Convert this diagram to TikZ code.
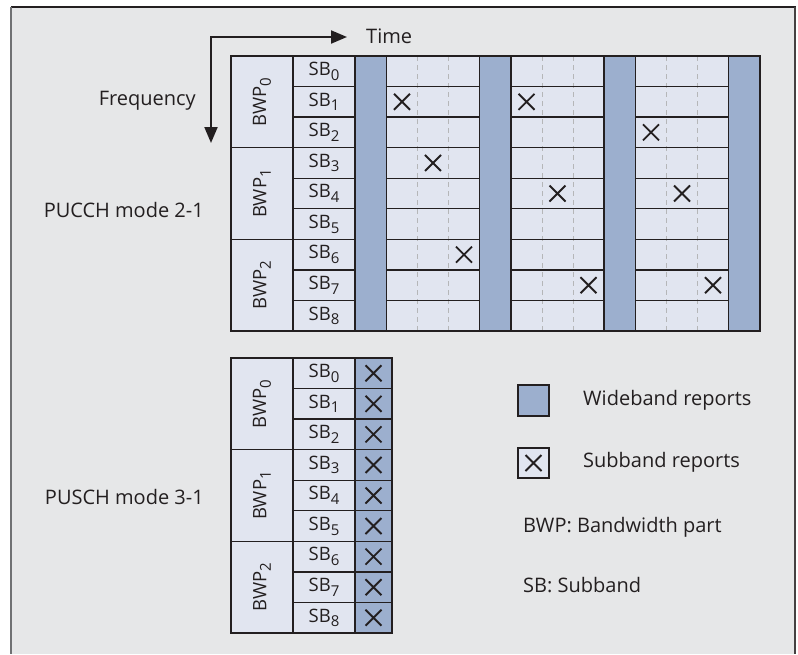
\documentclass[tikz,border=0pt]{standalone}
\usepackage{fontspec}
\setmainfont{Open Sans}
\usetikzlibrary{arrows.meta}

\definecolor{panel}{HTML}{E6E7E8}
\definecolor{cell}{HTML}{E1E5F0}
\definecolor{wide}{HTML}{9CAFCE}
\definecolor{ink}{HTML}{231F20}
\definecolor{dashgray}{HTML}{B5B6B8}
\definecolor{frameleft}{HTML}{707173}

\newcommand{\idx}[1]{\raisebox{-0.25em}{\fontsize{15}{15}\selectfont #1}}

\tikzset{
  grid line/.style={draw=ink, line width=1.3pt},
  subdiv/.style={draw=dashgray, line width=1pt, dash pattern=on 5pt off 4pt},
  xmark/.style={draw=ink, line width=1.9pt},
  label text/.style={font=\fontsize{20}{24}\selectfont, text=ink, inner sep=0pt},
  cell text/.style={font=\fontsize{18.5}{22}\selectfont, text=ink, inner sep=0pt},
  axis/.style={draw=ink, line width=2pt, {Triangle[length=16pt,width=13pt]}-{Triangle[length=16pt,width=13pt]}},
}

% cross mark centred at a point
\newcommand{\cross}[2]{\draw[xmark] (#1,#2) ++(-8,-8) -- ++(16,16) ++(0,-16) -- ++(-16,16);}

\begin{document}
\begin{tikzpicture}[x=1pt,y=-1pt]
\useasboundingbox (0,0) rectangle (798,654);
\fill[white] (0,0) rectangle (798,654);
\fill[panel] (11,7) rectangle (796,654);
\draw[draw=ink, line width=1.5pt] (11,7) -- (796,7);
\draw[draw=frameleft, line width=2pt] (11,7) -- (11,654);
\draw[draw=ink!85, line width=2pt] (795,7) -- (795,654);

\def\rh{30.556}

% ---------- time / frequency axes ----------
\coordinate (corner) at (211,37);
\coordinate (timetip) at (347,37);
\coordinate (freqtip) at (211,143);
\draw[axis] (timetip) -- (corner) -- (freqtip);
\node[label text, anchor=west] (time) at (366,36) {Time};
\node[label text, anchor=east] (freq) at (196,101) {Frequency};

% ---------- PUCCH mode 2-1 ----------
\node[label text, anchor=east] (pucch) at (204,210) {PUCCH mode 2-1};

% subband regions (light cells, dashed time slots, row lines)
\foreach \L in {386.5,511,635.5}{
  \pgfmathsetmacro{\R}{\L+93}
  \fill[cell] (\L,56) rectangle (\R,331);
  \draw[subdiv] (\L+31,56) -- (\L+31,331);
  \draw[subdiv] (\L+62,56) -- (\L+62,331);
  \foreach \s in {1,...,8}{
    \draw[grid line] (\L,56+\s*\rh) -- (\R,56+\s*\rh);
  }
  \draw[grid line] (\L,56) rectangle (\R,331);
}

% wideband report columns
\foreach \a/\b in {355/386.5,479.5/511,604/635.5,728.5/760}{
  \draw[grid line, fill=wide] (\a,56) rectangle (\b,331);
}

% bandwidth parts and subbands
\foreach \b in {0,1,2}{
  \pgfmathsetmacro{\yt}{56+3*\b*\rh}
  \pgfmathsetmacro{\yb}{56+3*(\b+1)*\rh}
  \pgfmathsetmacro{\ym}{(\yt+\yb)/2}
  \draw[grid line, fill=cell] (231,\yt) rectangle (293,\yb);
  \node[cell text, rotate=90] (pbwp\b) at (262,\ym) {BWP\idx{\b}};
}
\foreach \s in {0,...,8}{
  \pgfmathsetmacro{\yt}{56+\s*\rh}
  \pgfmathsetmacro{\yb}{56+(\s+1)*\rh}
  \pgfmathsetmacro{\ym}{(\yt+\yb)/2}
  \draw[grid line, fill=cell] (293,\yt) rectangle (355,\yb);
  \node[cell text] (psb\s) at (324,\ym) {SB\idx{\s}};
}

% subband reports over time
\foreach \L/\c/\s in {386.5/0/1, 386.5/1/3, 386.5/2/6,
                      511/0/1, 511/1/4, 511/2/7,
                      635.5/0/2, 635.5/1/4, 635.5/2/7}{
  \pgfmathsetmacro{\cx}{\L+15.5+31*\c}
  \pgfmathsetmacro{\cy}{56+(\s+0.5)*\rh}
  \cross{\cx}{\cy}
}

% ---------- PUSCH mode 3-1 ----------
\node[label text, anchor=east] (pusch) at (204,497) {PUSCH mode 3-1};

\foreach \b in {0,1,2}{
  \pgfmathsetmacro{\yt}{358+3*\b*\rh}
  \pgfmathsetmacro{\yb}{358+3*(\b+1)*\rh}
  \pgfmathsetmacro{\ym}{(\yt+\yb)/2}
  \draw[grid line, fill=cell] (231,\yt) rectangle (293,\yb);
  \node[cell text, rotate=90] (sbwp\b) at (262,\ym) {BWP\idx{\b}};
}
\foreach \s in {0,...,8}{
  \pgfmathsetmacro{\yt}{358+\s*\rh}
  \pgfmathsetmacro{\yb}{358+(\s+1)*\rh}
  \pgfmathsetmacro{\ym}{(\yt+\yb)/2}
  \draw[grid line, fill=cell] (293,\yt) rectangle (355,\yb);
  \node[cell text] (ssb\s) at (324,\ym) {SB\idx{\s}};
  \draw[grid line, fill=wide] (355,\yt) rectangle (392,\yb);
  \cross{373.5}{\ym}
}

% ---------- legend ----------
\draw[grid line, fill=wide] (518,385) rectangle (549,416);
\node[label text, anchor=west] (widelbl) at (583,400) {Wideband reports};
\draw[grid line, fill=cell] (518,448) rectangle (549,478);
\cross{533.5}{463}
\node[label text, anchor=west] (sublbl) at (583,462) {Subband reports};
\node[label text, anchor=west] (bwplbl) at (523,527) {BWP: Bandwidth part};
\node[label text, anchor=west] (sblbl) at (523,585) {SB: Subband};
\end{tikzpicture}
\end{document}
